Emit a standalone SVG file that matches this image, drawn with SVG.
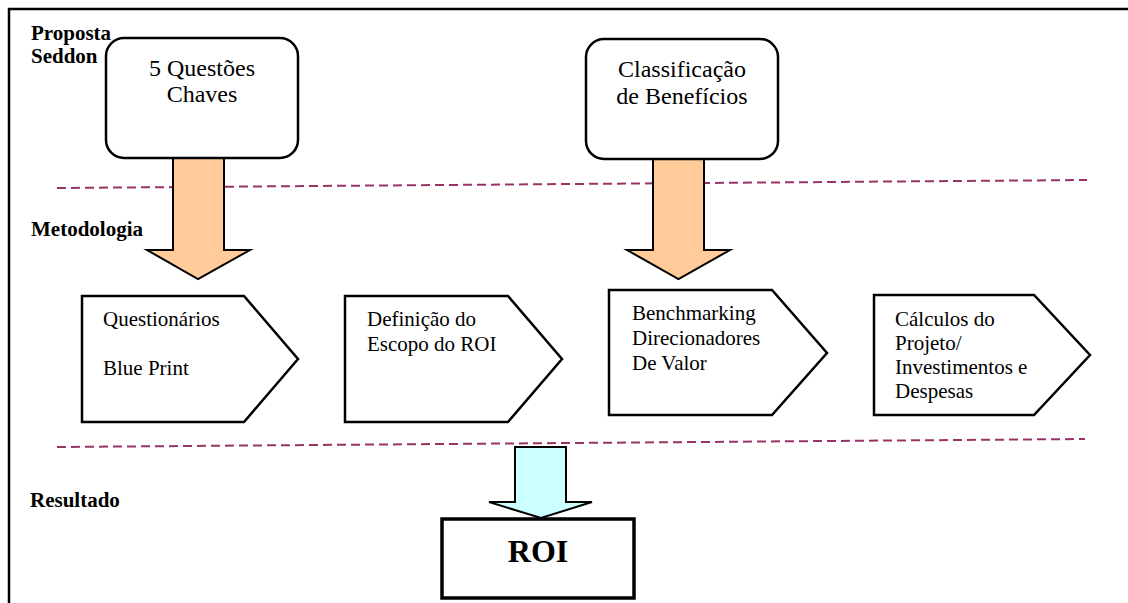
<svg xmlns="http://www.w3.org/2000/svg" width="1128" height="603" viewBox="0 0 1128 603">
<style>
text{font-family:'Liberation Serif','Times New Roman',Times,'DejaVu Serif',serif;fill:#000}
.lbl{font-weight:bold;font-size:21px}
.big{font-size:24px;text-anchor:middle}
.txt{font-size:21px}
.roi{font-weight:bold;font-size:32px;text-anchor:middle}
.box{fill:#fff;stroke:#000;stroke-width:2.5}
.arrO{fill:#FFCC99;stroke:#000;stroke-width:2}
.arrC{fill:#CCFFFF;stroke:#000;stroke-width:2}
.dash{stroke:#993366;stroke-width:2;stroke-dasharray:9 5;fill:none}
</style>
<rect width="1128" height="603" fill="#fff"/>
<path d="M9,603 V9 H1128" fill="none" stroke="#000" stroke-width="2.5"/>
<g id="labels">
<text class="lbl" x="31" y="40">Proposta</text>
<text class="lbl" x="31" y="63">Seddon</text>
<text class="lbl" x="31" y="236">Metodologia</text>
<text class="lbl" x="30" y="507">Resultado</text>
</g>
<g id="separators">
<line class="dash" x1="57" y1="188" x2="1087" y2="180"/>
<line class="dash" x1="57" y1="447" x2="1085" y2="439"/>
</g>
<g id="connectors">
<path class="arrO" d="M173,158 H224 V250 H250 L198,279 L147,250 H173 Z"/>
<path class="arrO" d="M653,159 H704 V250 H730 L678.5,279 L627,250 H653 Z"/>
<path class="arrC" d="M515,447 H566 V502 H592 L541,518 L489,502 H515 Z"/>
</g>
<g id="node-questoes">
<rect class="box" x="106" y="38" width="192" height="120" rx="18"/>
<text class="big" x="202" y="76">5 Questões</text>
<text class="big" x="202" y="102">Chaves</text>
</g>
<g id="node-classificacao">
<rect class="box" x="586" y="39" width="192" height="120" rx="18"/>
<text class="big" x="682" y="77">Classificação</text>
<text class="big" x="682" y="104">de Benefícios</text>
</g>
<g id="node-questionarios">
<path class="box" d="M82,296 H244 L298,359 L244,422 H82 Z"/>
<text class="txt" x="103" y="326">Questionários</text>
<text class="txt" x="103" y="375">Blue Print</text>
</g>
<g id="node-escopo">
<path class="box" d="M345,296 H508 L562,359 L508,422 H345 Z"/>
<text class="txt" x="367" y="326">Definição do</text>
<text class="txt" x="367" y="351">Escopo do ROI</text>
</g>
<g id="node-benchmarking">
<path class="box" d="M609,290 H772 L827,353 L772,415 H609 Z"/>
<text class="txt" x="632" y="320">Benchmarking</text>
<text class="txt" x="632" y="345">Direcionadores</text>
<text class="txt" x="632" y="370">De Valor</text>
</g>
<g id="node-calculos">
<path class="box" d="M874,295 H1034 L1090,355 L1034,415 H874 Z"/>
<text class="txt" x="895" y="326">Cálculos do</text>
<text class="txt" x="895" y="350">Projeto/</text>
<text class="txt" x="895" y="374">Investimentos e</text>
<text class="txt" x="895" y="398">Despesas</text>
</g>
<g id="node-roi">
<rect x="442" y="519" width="192" height="79" fill="#fff" stroke="#000" stroke-width="3.5"/>
<text class="roi" x="538" y="562">ROI</text>
</g>
</svg>
